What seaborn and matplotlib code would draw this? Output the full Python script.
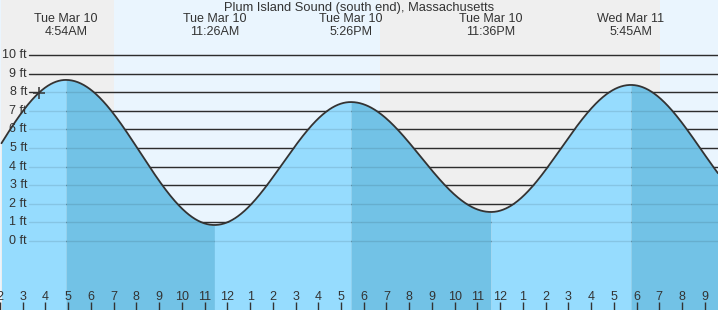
import numpy as np
import pandas as pd
import matplotlib
matplotlib.use("Agg")
import matplotlib.pyplot as plt
import seaborn as sns

# ---- data (hours since midnight Tue Mar 10, heights in ft) ----
extreme_hours = [-1.3, 4.9, 11.433, 17.433, 23.6, 29.75, 35.9]
extreme_ft = [0.8, 8.66, 0.86, 7.47, 1.56, 8.39, 1.5]
label_hours = [4.9, 11.433, 17.433, 23.6, 29.75]
label_days = ["Tue Mar 10", "Tue Mar 10", "Tue Mar 10", "Tue Mar 10", "Wed Mar 11"]
label_times = ["4:54AM", "11:26AM", "5:26PM", "11:36PM", "5:45AM"]
sun_hours = [7.03, 18.7, 31.03]          # sunrise, sunset, sunrise
ft_ticks = list(range(0, 11))
hour_ticks = list(range(2, 34))
midnight_hour = 24
now_hour = 3.7
title = "Plum Island Sound (south end), Massachusetts"

# ---- style ----
sns.set_style("white")
plt.rcParams["font.family"] = ["Liberation Sans", "DejaVu Sans"]
TXT = "#333333"
LIGHT = "#96dcfe"
DARK = "#72c2e6"
NIGHT = "#efefef"
DAY = "#eaf5fe"

W, H = 718, 310
fig = plt.figure(figsize=(W / 100, H / 100), dpi=100)
ax = fig.add_axes([0, 0, 1, 1])
x0, x1 = 3 - 21.3 / 22.78, 3 + (W - 21.3) / 22.78
y0, y1 = -69 / 18.6, 241 / 18.6
ax.set_xlim(x0, x1)
ax.set_ylim(y0, y1)
ax.set_facecolor(DAY)
for s in ax.spines.values():
    s.set_visible(False)

# night shading
ax.axvspan(x0, sun_hours[0], color=NIGHT, lw=0, zorder=0)
ax.axvspan(sun_hours[1], sun_hours[2], color=NIGHT, lw=0, zorder=0)

# grid lines
gx = 29 / W
for f in ft_ticks:
    ax.axhline(f, xmin=gx, xmax=1, color=TXT, lw=1.0, zorder=1)
    ax.axhline(f, xmin=gx, xmax=1, color="black", alpha=0.1, lw=1.0, zorder=4)
    ax.text(27 / W, f, f"{f} ft", transform=ax.get_yaxis_transform(),
            ha="right", va="center", fontsize=9, color=TXT, zorder=6)

# tide curve, cosine shape between successive high/low predictions
segs = []
for i in range(len(extreme_hours) - 1):
    a, b = extreme_hours[i], extreme_hours[i + 1]
    lo, hi = max(a, x0), min(b, x1)
    if lo >= hi:
        continue
    t = np.linspace(lo, hi, 200)
    frac = (t - a) / (b - a)
    h = extreme_ft[i] + (extreme_ft[i + 1] - extreme_ft[i]) * (1 - np.cos(np.pi * frac)) / 2
    falling = extreme_ft[i + 1] < extreme_ft[i]
    ax.fill_between(t, h, y0, color=DARK if falling else LIGHT, lw=0, zorder=2)
    segs.append(pd.DataFrame({"hour": t, "ft": h}))
curve = pd.concat(segs, ignore_index=True)
sns.lineplot(data=curve, x="hour", y="ft", color=TXT, lw=1.3, ax=ax, zorder=5,
             sort=False, estimator=None)
ax.set_xlabel("")
ax.set_ylabel("")

# current time marker
now_ft = np.interp(now_hour, curve["hour"], curve["ft"])
ax.plot([now_hour], [now_ft], marker="+", ms=9, mew=1.1, color=TXT, zorder=6)

# annotations
ax.text(0.5, 1 - 7.5 / H, title, transform=ax.transAxes, ha="center", va="center",
        fontsize=9.3, color=TXT)
for hx, d, tm in zip(label_hours, label_days, label_times):
    ax.text(hx, 1 - 19.5 / H, d, transform=ax.get_xaxis_transform(), ha="center",
            va="center", fontsize=9, color=TXT)
    ax.text(hx, 1 - 32 / H, tm, transform=ax.get_xaxis_transform(), ha="center",
            va="center", fontsize=9, color=TXT)

# hour ticks
ax.set_axisbelow(False)
ax.xaxis.set_zorder(7)
ax.set_xticks(hour_ticks)
ax.set_xticklabels([str((h - 1) % 12 + 1) for h in hour_ticks])
ax.set_yticks([])
ax.tick_params(axis="x", direction="in", length=6, width=1, color=TXT,
               labelsize=9, labelcolor=TXT, pad=-13.8, bottom=True)
ax.set_xticks([midnight_hour], minor=True)
ax.tick_params(axis="x", which="minor", direction="in", length=6.3, width=2.4,
               color=TXT, bottom=True)

fig.savefig("out.png", dpi=100)
